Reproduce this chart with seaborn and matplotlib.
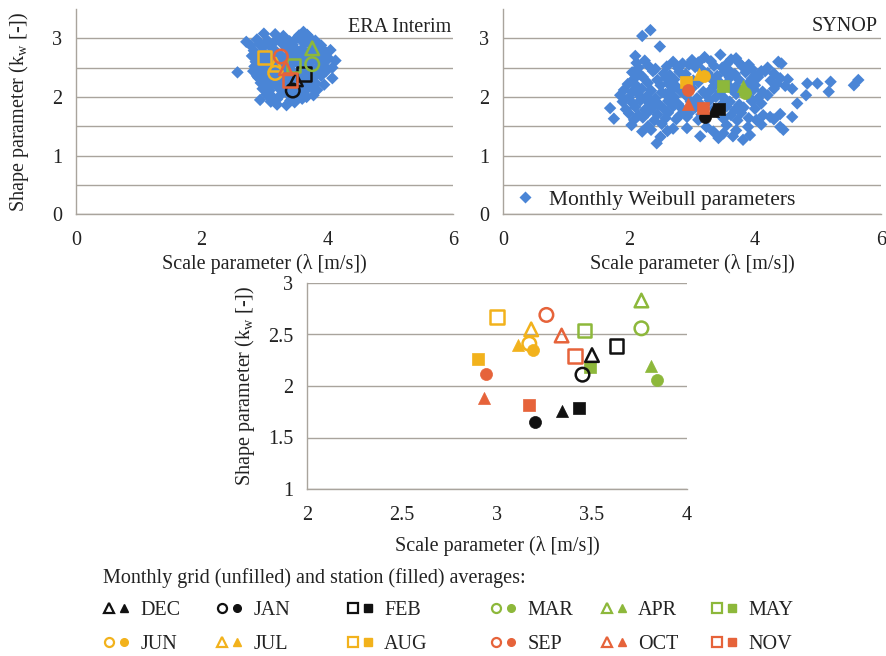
import numpy as np
import pandas as pd
import matplotlib
matplotlib.use("Agg")
import matplotlib.pyplot as plt
import seaborn as sns
from matplotlib.lines import Line2D
from matplotlib.legend_handler import HandlerTuple

# ---------------- data ----------------
months = ["DEC", "JAN", "FEB", "MAR", "APR", "MAY",
          "JUN", "JUL", "AUG", "SEP", "OCT", "NOV"]
month_markers = ["^", "o", "s", "o", "^", "s", "o", "^", "s", "o", "^", "s"]
month_colors = ["#111111", "#111111", "#111111",
                "#8DB83B", "#8DB83B", "#8DB83B",
                "#F2B21C", "#F2B21C", "#F2B21C",
                "#E6633A", "#E6633A", "#E6633A"]
# grid (ERA Interim) monthly averages - unfilled
grid_lam = [3.50, 3.45, 3.63, 3.76, 3.76, 3.46, 3.17, 3.18, 3.00, 3.26, 3.34, 3.41]
grid_k = [2.30, 2.11, 2.39, 2.56, 2.83, 2.54, 2.41, 2.55, 2.67, 2.69, 2.49, 2.29]
# station (SYNOP) monthly averages - filled
stat_lam = [3.34, 3.20, 3.43, 3.84, 3.81, 3.49, 3.19, 3.11, 2.90, 2.94, 2.93, 3.17]
stat_k = [1.76, 1.655, 1.79, 2.06, 2.19, 2.18, 2.35, 2.40, 2.26, 2.12, 1.88, 1.82]

# monthly Weibull parameters, ERA Interim (read approximately)
era_lam = [2.99, 3.17, 3.30, 3.55, 3.62, 3.68,
           2.71, 2.88, 3.05, 3.22, 3.40, 3.50, 3.58, 3.72, 3.81,
           2.78, 2.92, 3.10, 3.28, 3.35, 3.45, 3.64, 3.77, 3.90,
           2.83, 2.97, 3.14, 3.20, 3.38, 3.52, 3.60, 3.70, 3.85, 3.97, 4.05,
           2.80, 2.90, 3.03, 3.18, 3.25, 3.42, 3.48, 3.56, 3.66, 3.80, 3.92, 4.02,
           2.86, 2.98, 3.08, 3.33, 3.47, 3.62, 3.75, 3.88, 3.99, 4.13,
           2.84, 2.95, 3.02, 3.12, 3.27, 3.40, 3.55, 3.68, 3.83, 3.95, 4.08,
           2.57, 2.82, 2.92, 3.05, 3.21, 3.30, 3.45, 3.58, 3.72, 3.86, 3.98,
           2.90, 3.00, 3.10, 3.25, 3.38, 3.52, 3.65, 3.78, 3.90, 4.08,
           2.94, 3.04, 3.16, 3.30, 3.43, 3.56, 3.70, 3.82, 3.95,
           2.97, 3.08, 3.22, 3.35, 3.50, 3.62, 3.75, 3.84,
           3.03, 3.12, 3.28, 3.40, 3.53, 3.67, 3.78,
           2.93, 3.10, 3.20, 3.41, 3.48, 3.60,
           3.20, 3.35,
           3.00, 3.15, 3.33, 3.47, 3.60, 3.73, 3.12, 3.30, 3.40, 3.53, 3.70,
           2.93, 3.20, 3.38, 3.60, 3.78, 3.15, 3.36, 3.50, 3.62, 3.18, 3.30,
           3.42, 3.58, 3.10, 3.28, 3.45, 3.68, 3.85, 3.92, 2.88, 3.02]
era_k = [3.08, 3.07, 3.04, 3.05, 3.11, 3.06,
         2.94, 2.98, 2.96, 3.00, 2.95, 2.99, 2.97, 3.01, 2.96,
         2.88, 2.90, 2.86, 2.91, 2.87, 2.89, 2.92, 2.86, 2.88,
         2.79, 2.77, 2.81, 2.76, 2.80, 2.78, 2.82, 2.75, 2.79, 2.77, 2.80,
         2.70, 2.67, 2.71, 2.68, 2.72, 2.66, 2.70, 2.69, 2.65, 2.71, 2.68, 2.66,
         2.60, 2.63, 2.58, 2.62, 2.59, 2.64, 2.61, 2.59, 2.63, 2.62,
         2.52, 2.49, 2.54, 2.50, 2.53, 2.48, 2.55, 2.51, 2.49, 2.53, 2.50,
         2.42, 2.44, 2.41, 2.45, 2.40, 2.46, 2.43, 2.41, 2.45, 2.42, 2.44,
         2.33, 2.36, 2.31, 2.35, 2.32, 2.37, 2.30, 2.34, 2.36, 2.32,
         2.24, 2.21, 2.26, 2.22, 2.25, 2.20, 2.27, 2.23, 2.21,
         2.14, 2.11, 2.16, 2.12, 2.15, 2.10, 2.17, 2.12,
         2.04, 2.01, 2.06, 2.02, 2.05, 2.00, 2.03,
         1.95, 1.92, 1.96, 1.94, 1.91, 1.97,
         1.87, 1.86,
         2.88, 2.93, 2.97, 2.84, 2.75, 2.90, 2.73, 2.66, 2.74, 2.63, 2.58,
         2.57, 2.57, 2.55, 2.47, 2.44, 2.44, 2.39, 2.29, 2.36, 2.30, 2.27,
         2.18, 2.24, 2.20, 2.12, 2.07, 2.14, 2.60, 2.50, 2.36, 2.26]

# monthly Weibull parameters, SYNOP stations (read approximately)
syn_lam = [2.34, 2.21, 2.49,
           2.10, 3.20, 3.45, 3.70,
           2.12, 2.25, 2.70, 2.85, 3.00, 3.10, 3.30, 3.55, 3.62, 3.75, 3.90, 4.37, 4.42,
           2.15, 2.30, 2.42, 2.60, 2.78, 2.95, 3.05, 3.15, 3.35, 3.48, 3.58, 3.80, 3.95, 4.10, 4.20,
           2.05, 2.18, 2.38, 2.55, 2.65, 2.80, 2.90, 3.25, 3.40, 3.52, 3.68, 3.85, 4.00, 4.16, 4.30,
           2.08, 2.22, 2.45, 2.58, 2.72, 2.88, 3.02, 3.30, 3.42, 3.60, 3.75, 3.95, 4.05, 4.25, 4.40, 4.52, 5.64,
           1.98, 2.12, 2.30, 2.50, 2.62, 2.75, 2.95, 3.10, 3.35, 3.55, 3.70, 3.90, 4.00, 4.35, 4.48, 4.83, 4.99, 5.20, 5.57,
           1.92, 2.05, 2.20, 2.35, 2.52, 2.68, 2.82, 3.00, 3.18, 3.30, 3.45, 3.62, 3.80, 3.98, 4.12, 4.30, 4.59,
           1.86, 2.00, 2.15, 2.28, 2.42, 2.58, 2.72, 2.90, 3.08, 3.22, 3.38, 3.52, 3.70, 3.90, 4.05, 4.20, 4.81, 5.17,
           1.90, 2.06, 2.18, 2.32, 2.48, 2.62, 2.78, 2.98, 3.12, 3.28, 3.48, 3.60, 3.75, 3.95, 4.10, 4.67,
           1.70, 1.95, 2.10, 2.25, 2.38, 2.55, 2.70, 2.85, 3.05, 3.35, 3.55, 3.68, 3.82, 4.00,
           2.00, 2.15, 2.30, 2.45, 2.62, 2.80, 2.95, 3.15, 3.40, 3.62, 3.78, 4.13, 4.40,
           1.76, 2.08, 2.22, 2.40, 2.58, 2.75, 2.92, 3.10, 3.50, 3.72, 3.90, 4.02, 4.24, 4.30, 4.59,
           2.04, 2.30, 2.52, 2.92, 3.23, 3.55, 3.89, 4.10, 4.40,
           2.21, 2.35, 2.61, 2.70, 3.34, 3.50, 3.70, 4.45,
           2.50, 3.13, 3.42, 3.65, 3.92,
           2.44, 3.81]
syn_k = [3.14, 3.04, 2.86,
         2.70, 2.68, 2.72, 2.66,
         2.58, 2.62, 2.60, 2.57, 2.63, 2.59, 2.61, 2.56, 2.64, 2.58, 2.55, 2.60, 2.57,
         2.50, 2.54, 2.48, 2.52, 2.49, 2.55, 2.51, 2.47, 2.53, 2.50, 2.46, 2.52, 2.48, 2.44, 2.50,
         2.42, 2.38, 2.44, 2.40, 2.37, 2.43, 2.39, 2.41, 2.36, 2.43, 2.39, 2.42, 2.37, 2.44, 2.40,
         2.31, 2.34, 2.29, 2.33, 2.30, 2.35, 2.28, 2.32, 2.27, 2.33, 2.29, 2.31, 2.34, 2.28, 2.32, 2.30, 2.29,
         2.22, 2.19, 2.24, 2.20, 2.23, 2.18, 2.21, 2.25, 2.19, 2.23, 2.18, 2.24, 2.20, 2.22, 2.19, 2.23, 2.23, 2.26, 2.20,
         2.12, 2.09, 2.14, 2.11, 2.08, 2.13, 2.10, 2.15, 2.09, 2.12, 2.08, 2.14, 2.10, 2.13, 2.09, 2.14, 2.14,
         2.03, 1.99, 2.04, 2.01, 1.98, 2.05, 2.00, 2.03, 1.98, 2.04, 2.00, 1.97, 2.05, 2.01, 1.98, 2.03, 2.03, 2.09,
         1.92, 1.89, 1.94, 1.90, 1.87, 1.93, 1.88, 1.92, 1.89, 1.94, 1.88, 1.92, 1.87, 1.93, 1.89, 1.89,
         1.81, 1.79, 1.83, 1.78, 1.82, 1.80, 1.84, 1.79, 1.82, 1.80, 1.84, 1.78, 1.82, 1.80,
         1.72, 1.69, 1.74, 1.70, 1.73, 1.68, 1.72, 1.70, 1.74, 1.69, 1.73, 1.69, 1.71,
         1.63, 1.61, 1.65, 1.60, 1.64, 1.62, 1.66, 1.61, 1.63, 1.60, 1.64, 1.61, 1.66, 1.62, 1.66,
         1.52, 1.50, 1.54, 1.47, 1.49, 1.52, 1.49, 1.53, 1.49,
         1.41, 1.44, 1.42, 1.46, 1.41, 1.38, 1.43, 1.44,
         1.32, 1.33, 1.30, 1.33, 1.35,
         1.21, 1.27]

# ---------------- style ----------------
sns.set_theme(style="white")
plt.rcParams['font.family'] = ['Liberation Serif', 'DejaVu Serif']
plt.rcParams['mathtext.fontset'] = 'custom'
plt.rcParams['mathtext.rm'] = 'Liberation Serif'
plt.rcParams['mathtext.it'] = 'Liberation Serif:italic'

BLUE = "#4A85D6"
GRID = "#a9a49d"
TXT = "#222222"

W, H = 886, 656
fig = plt.figure(figsize=(W / 100, H / 100), dpi=100)


def box(l, t, r, b):
    return [l / W, 1 - b / H, (r - l) / W, (b - t) / H]


ax1 = fig.add_axes(box(76, 9, 453, 214.3))
ax2 = fig.add_axes(box(503, 9, 881, 214.3))
ax3 = fig.add_axes(box(307, 283, 687, 489))

ylab = "Shape parameter (k$_\\mathrm{w}$ [-])"
xlab = "Scale parameter (\u03bb [m/s])"


def style(ax, xlim, ylim, xt, xtl, yt, ytl, hide_top_grid, xpad=9):
    ax.set_xlim(xlim)
    ax.set_ylim(ylim)
    ax.set_xticks(xt)
    ax.set_xticklabels(xtl)
    ax.set_yticks(yt)
    ax.set_yticklabels(ytl)
    for s in ["top", "right"]:
        ax.spines[s].set_visible(False)
    for s in ["left", "bottom"]:
        ax.spines[s].set_color(GRID)
        ax.spines[s].set_linewidth(1.0)
    ax.grid(axis="y", color=GRID, lw=1.0)
    ax.grid(axis="x", visible=False)
    ax.set_axisbelow(True)
    ax.tick_params(direction="out", length=4, width=1, color=GRID,
                   labelsize=14.5, labelcolor=TXT)
    ax.tick_params(axis="x", pad=xpad)
    ax.tick_params(axis="y", pad=6)
    if hide_top_grid:
        ax.get_ygridlines()[-1].set_visible(False)
    ax.set_xlabel("")
    ax.set_ylabel("")


def season_points(ax, lam, k, filled):
    for i in range(len(months)):
        c = month_colors[i]
        if filled:
            sns.scatterplot(x=[lam[i]], y=[k[i]], marker=month_markers[i], s=75,
                            color=c, edgecolor=c, linewidth=0.5, ax=ax, zorder=4)
        else:
            sns.scatterplot(x=[lam[i]], y=[k[i]], marker=month_markers[i], s=95,
                            facecolor="none", edgecolor=c, linewidth=1.8, ax=ax, zorder=5)


# ---- ERA Interim panel ----
era_df = pd.DataFrame({"lam": era_lam, "k": era_k})
sns.scatterplot(data=era_df, x="lam", y="k", marker="D", s=40, color=BLUE,
                edgecolor="none", ax=ax1, zorder=2)
season_points(ax1, grid_lam, grid_k, filled=False)
style(ax1, (0, 6), (0, 3.5), [0, 2, 4, 6], ["0", "2", "4", "6"],
      [0, 0.5, 1, 1.5, 2, 2.5, 3, 3.5], ["0", "", "1", "", "2", "", "3", ""], True, xpad=8)
ax1.set_xlabel(xlab, fontsize=14.5, color=TXT, labelpad=3)
ax1.set_ylabel(ylab, fontsize=14.5, color=TXT, labelpad=15)
ax1.text(0.995, 3.18, "ERA Interim", transform=ax1.get_yaxis_transform(),
         ha="right", va="center", fontsize=14.5, color=TXT)

# ---- SYNOP panel ----
syn_df = pd.DataFrame({"lam": syn_lam, "k": syn_k})
sns.scatterplot(data=syn_df, x="lam", y="k", marker="D", s=40, color=BLUE,
                edgecolor="none", ax=ax2, zorder=2)
season_points(ax2, stat_lam, stat_k, filled=True)
style(ax2, (0, 6), (0, 3.5), [0, 2, 4, 6], ["0", "2", "4", "6"],
      [0, 0.5, 1, 1.5, 2, 2.5, 3, 3.5], ["0", "", "1", "", "2", "", "3", ""], True, xpad=8)
ax2.set_xlabel(xlab, fontsize=14.5, color=TXT, labelpad=3)
ax2.text(0.99, 3.2, "SYNOP", transform=ax2.get_yaxis_transform(),
         ha="right", va="center", fontsize=14.5, color=TXT)
dia = Line2D([], [], ls="none", marker="D", ms=6.5, color=BLUE, mec="none")
ax2.legend([dia], ["Monthly Weibull parameters"], loc="center left",
           bbox_to_anchor=(0.03, 0.07), frameon=False, fontsize=15.5,
           handlelength=1.0, handletextpad=0.6, borderpad=0, borderaxespad=0,
           labelcolor=TXT)

# ---- combined panel ----
season_points(ax3, grid_lam, grid_k, filled=False)
season_points(ax3, stat_lam, stat_k, filled=True)
style(ax3, (2, 4), (1, 3), [2, 2.5, 3, 3.5, 4], ["2", "2.5", "3", "3.5", "4"],
      [1, 1.5, 2, 2.5, 3], ["1", "1.5", "2", "2.5", "3"], False, xpad=8)
ax3.set_xlabel(xlab, fontsize=14.5, color=TXT, labelpad=8)
ax3.set_ylabel(ylab, fontsize=14.5, color=TXT, labelpad=8)

# ---- bottom legend ----
fig.text(103 / W, 1 - 578 / H, "Monthly grid (unfilled) and station (filled) averages:",
         ha="left", va="center", fontsize=14.5, color=TXT)
col_x = [104, 217, 348, 491, 602, 712]
for j in range(6):
    handles, labels = [], []
    for i in (j, j + 6):
        c = month_colors[i]
        m = month_markers[i]
        h_open = Line2D([], [], ls="none", marker=m, ms=6.5, mfc="none", mec=c, mew=1.6)
        h_fill = Line2D([], [], ls="none", marker=m, ms=5.5, mfc=c, mec=c)
        handles.append((h_open, h_fill))
        labels.append(months[i])
    fig.legend(handles, labels, handler_map={tuple: HandlerTuple(ndivide=None, pad=0.25)},
               loc="upper left", bbox_to_anchor=(col_x[j] / W, 1 - 601 / H),
               frameon=False, fontsize=14.5, handlelength=1.25, handletextpad=0.55,
               labelspacing=0.75, borderpad=0, borderaxespad=0, labelcolor=TXT)

fig.savefig("out.png", dpi=100)
